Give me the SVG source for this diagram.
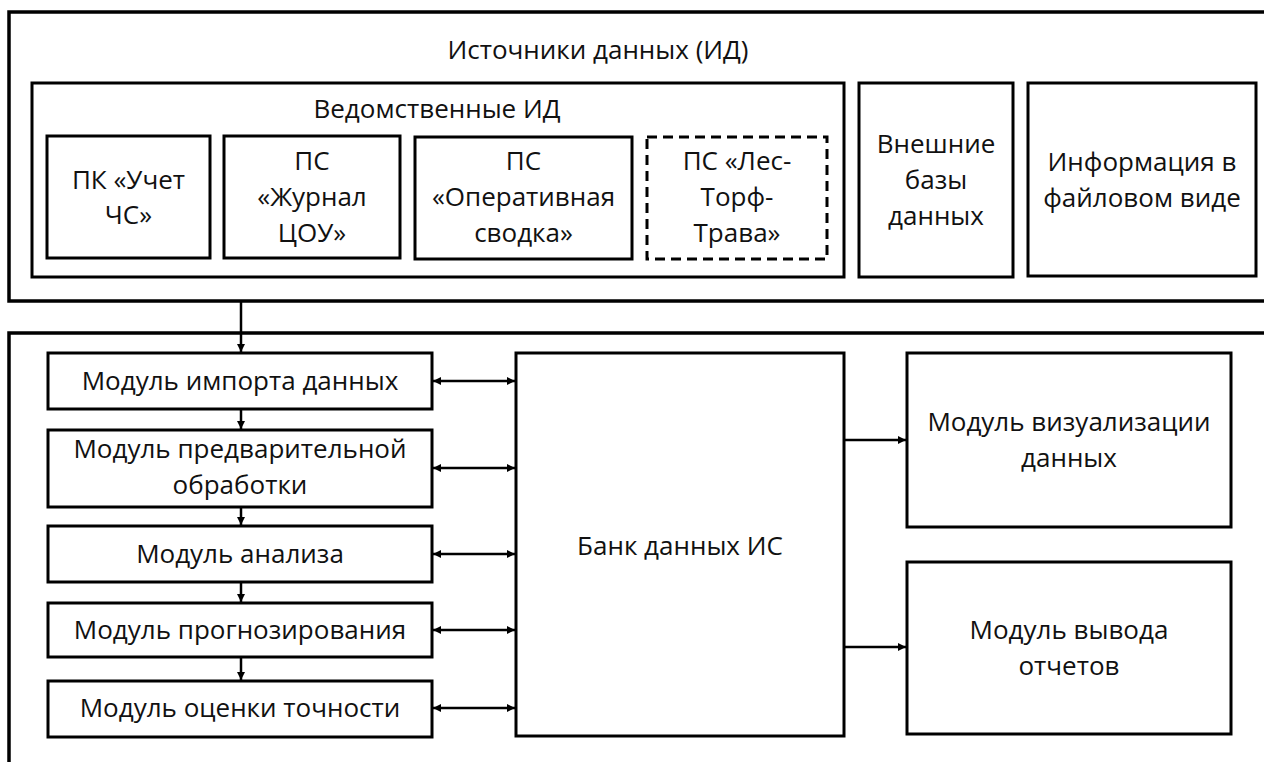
<svg xmlns="http://www.w3.org/2000/svg" width="1264" height="762" viewBox="0 0 1264 762">
<style>
.box{fill:#fff;stroke:#000;stroke-width:3}
.dash{fill:#fff;stroke:#000;stroke-width:3;stroke-dasharray:10 6}
.frame{fill:none;stroke:#000;stroke-width:3.5}
.t{font-family:"Open Sans","Noto Sans","DejaVu Sans",sans-serif;font-size:26px;fill:#111;text-anchor:middle}
.c{stroke:#000;stroke-width:2.5;fill:none}
</style>
<defs>
<marker id="ah" viewBox="0 0 10 10" refX="10" refY="5" markerWidth="10" markerHeight="8" markerUnits="userSpaceOnUse" orient="auto-start-reverse">
<path d="M0,0 L10,5 L0,10 z" fill="#000"/>
</marker>
</defs>
<rect width="1264" height="762" fill="#fff"/>

<g id="sources">
<path class="frame" d="M1280,12 H9 V301 H1280"/>
<text class="t" x="598" y="59">Источники данных (ИД)</text>
</g>
<g id="departmental">
<rect class="box" x="32" y="83" width="812" height="194"/>
<text class="t" x="437" y="118">Ведомственные ИД</text>
</g>
<g id="pk-uchet">
<rect class="box" x="47" y="136" width="163" height="122"/>
<text class="t" x="128.5" y="189">ПК «Учет</text>
<text class="t" x="128.5" y="224">ЧС»</text>
</g>
<g id="ps-zhurnal">
<rect class="box" x="224" y="136" width="176" height="122"/>
<text class="t" x="312" y="170">ПС</text>
<text class="t" x="312" y="206">«Журнал</text>
<text class="t" x="312" y="242">ЦОУ»</text>
</g>
<g id="ps-operativ">
<rect class="box" x="415" y="137" width="217" height="122"/>
<text class="t" x="523.5" y="170">ПС</text>
<text class="t" x="523.5" y="206">«Оперативная</text>
<text class="t" x="523.5" y="242">сводка»</text>
</g>
<g id="ps-les">
<rect class="dash" x="647" y="137" width="180" height="122"/>
<text class="t" x="737" y="170">ПС «Лес-</text>
<text class="t" x="737" y="206">Торф-</text>
<text class="t" x="737" y="242">Трава»</text>
</g>
<g id="external-db">
<rect class="box" x="859" y="83" width="154" height="194"/>
<text class="t" x="936" y="153">Внешние</text>
<text class="t" x="936" y="189">базы</text>
<text class="t" x="936" y="225">данных</text>
</g>
<g id="file-info">
<rect class="box" x="1028" y="83" width="228" height="193"/>
<text class="t" x="1142" y="171">Информация в</text>
<text class="t" x="1142" y="207">файловом виде</text>
</g>

<g id="system">
<path class="frame" d="M1280,333 H9 V780"/>
</g>
<g id="m-import">
<rect class="box" x="48" y="353" width="384" height="56"/>
<text class="t" x="240" y="390">Модуль импорта данных</text>
</g>
<g id="m-pre">
<rect class="box" x="48" y="430" width="384" height="77"/>
<text class="t" x="240" y="458">Модуль предварительной</text>
<text class="t" x="240" y="494">обработки</text>
</g>
<g id="m-analysis">
<rect class="box" x="48" y="526" width="384" height="56"/>
<text class="t" x="240" y="563">Модуль анализа</text>
</g>
<g id="m-forecast">
<rect class="box" x="48" y="603" width="384" height="54"/>
<text class="t" x="240" y="639">Модуль прогнозирования</text>
</g>
<g id="m-accuracy">
<rect class="box" x="48" y="681" width="384" height="56"/>
<text class="t" x="240" y="717">Модуль оценки точности</text>
</g>
<g id="bank">
<rect class="box" x="516" y="353" width="328" height="383"/>
<text class="t" x="680" y="555">Банк данных ИС</text>
</g>
<g id="m-vis">
<rect class="box" x="907" y="353" width="324" height="174"/>
<text class="t" x="1069" y="431">Модуль визуализации</text>
<text class="t" x="1069" y="467">данных</text>
</g>
<g id="m-report">
<rect class="box" x="907" y="562" width="324" height="172"/>
<text class="t" x="1069" y="639">Модуль вывода</text>
<text class="t" x="1069" y="675">отчетов</text>
</g>

<g id="connectors">
<line class="c" x1="241" y1="302" x2="241" y2="352" marker-end="url(#ah)"/>
<line class="c" x1="241" y1="410" x2="241" y2="429" marker-end="url(#ah)"/>
<line class="c" x1="241" y1="508" x2="241" y2="525" marker-end="url(#ah)"/>
<line class="c" x1="241" y1="583" x2="241" y2="602" marker-end="url(#ah)"/>
<line class="c" x1="241" y1="658" x2="241" y2="680" marker-end="url(#ah)"/>
<line class="c" x1="433" y1="381" x2="515" y2="381" marker-start="url(#ah)" marker-end="url(#ah)"/>
<line class="c" x1="433" y1="468" x2="515" y2="468" marker-start="url(#ah)" marker-end="url(#ah)"/>
<line class="c" x1="433" y1="554" x2="515" y2="554" marker-start="url(#ah)" marker-end="url(#ah)"/>
<line class="c" x1="433" y1="630" x2="515" y2="630" marker-start="url(#ah)" marker-end="url(#ah)"/>
<line class="c" x1="433" y1="708" x2="515" y2="708" marker-start="url(#ah)" marker-end="url(#ah)"/>
<line class="c" x1="845" y1="440" x2="906" y2="440" marker-end="url(#ah)"/>
<line class="c" x1="845" y1="647" x2="906" y2="647" marker-end="url(#ah)"/>
</g>
</svg>
